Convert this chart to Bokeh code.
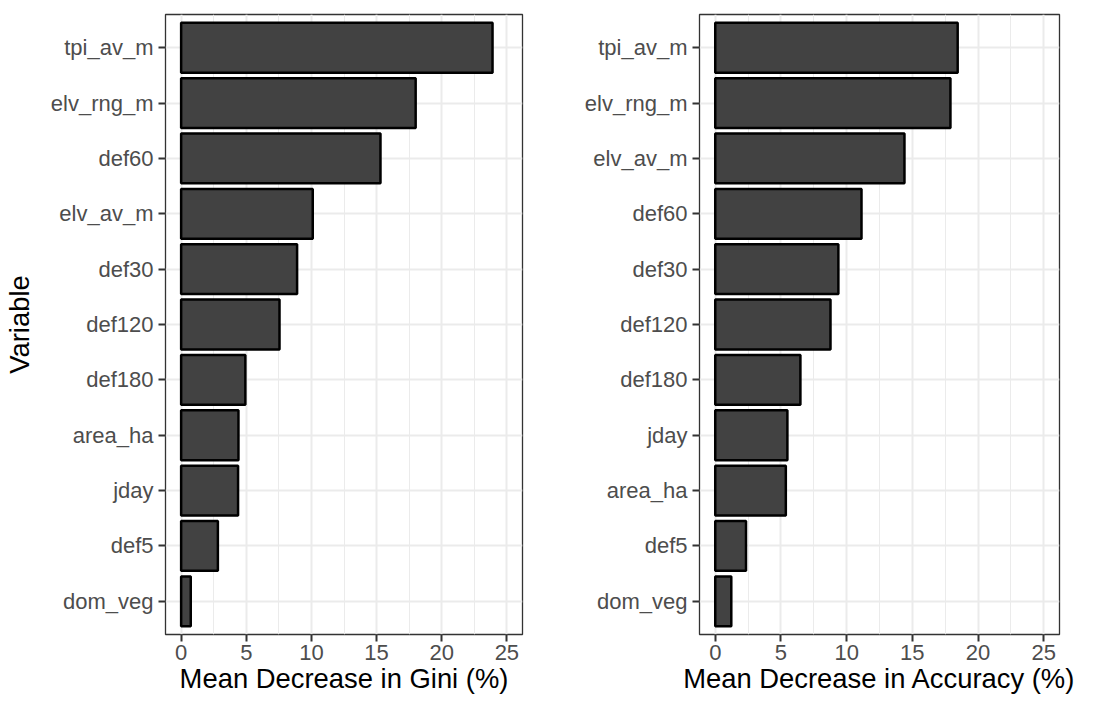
from bokeh.plotting import figure
from bokeh.layouts import row
from bokeh.models import FactorRange, Range1d, FixedTicker, ColumnDataSource
from bokeh.embed import file_html
from bokeh.resources import INLINE

gini_vars = ["tpi_av_m", "elv_rng_m", "def60", "elv_av_m", "def30", "def120",
             "def180", "area_ha", "jday", "def5", "dom_veg"]
gini_vals = [23.9, 18.0, 15.3, 10.1, 8.9, 7.55, 4.93, 4.4, 4.37, 2.82, 0.74]

acc_vars = ["tpi_av_m", "elv_rng_m", "elv_av_m", "def60", "def30", "def120",
            "def180", "jday", "area_ha", "def5", "dom_veg"]
acc_vals = [18.45, 17.9, 14.4, 11.13, 9.37, 8.77, 6.48, 5.49, 5.37, 2.34, 1.22]

x_ticks = [0, 5, 10, 15, 20, 25]
x_minor = [2.5, 7.5, 12.5, 17.5, 22.5]

FONT = "Liberation Sans"


def make_panel(vars_, vals, xlabel, ylabel, width, bl, br):
    factors = list(reversed(vars_))
    p = figure(width=width, height=701, output_backend="svg", toolbar_location=None,
               y_range=FactorRange(factors=factors, range_padding=0.2 / len(factors)),
               x_range=Range1d(-1.2, 26.2),
               min_border_left=bl, min_border_right=br, min_border_top=14, min_border_bottom=67)
    src = ColumnDataSource(dict(y=vars_, v=vals))
    p.hbar(y="y", right="v", left=0, height=0.9, source=src,
           fill_color="#424242", line_color="black", line_width=2.5)
    p.xaxis.ticker = FixedTicker(ticks=x_ticks, minor_ticks=x_minor)
    p.outline_line_color = "#333333"
    p.outline_line_width = 1.3
    p.background_fill_color = "white"
    p.border_fill_color = "white"
    for ax in (p.xaxis, p.yaxis):
        ax.axis_line_color = None
        ax.major_tick_line_color = "#333333"
        ax.major_tick_line_width = 2
        ax.major_tick_out = 7
        ax.major_tick_in = 0
        ax.minor_tick_line_color = None
        ax.major_label_text_font = FONT
        ax.major_label_text_font_size = "22px"
        ax.major_label_text_color = "#4d4d4d"
        ax.axis_label_text_font = FONT
        ax.axis_label_text_font_size = "27.4px"
        ax.axis_label_text_font_style = "normal"
        ax.axis_label_text_color = "black"
    p.yaxis.major_label_standoff = 5
    p.xaxis.major_label_standoff = 3
    p.xaxis.axis_label = xlabel
    p.xaxis.axis_label_standoff = 0
    if ylabel:
        p.yaxis.axis_label = ylabel
        p.yaxis.axis_label_standoff = 13
    p.xgrid.grid_line_color = "#ebebeb"
    p.xgrid.grid_line_width = 2
    p.xgrid.minor_grid_line_color = "#ebebeb"
    p.xgrid.minor_grid_line_width = 1
    p.ygrid.grid_line_color = "#ebebeb"
    p.ygrid.grid_line_width = 2
    p.xgrid.level = "underlay"
    p.ygrid.level = "underlay"
    return p


p1 = make_panel(gini_vars, gini_vals, "Mean Decrease in Gini (%)", "Variable", 560, 163, 38)
p2 = make_panel(acc_vars, acc_vals, "Mean Decrease in Accuracy (%)", None, 555, 139, 56)

layout = row(p1, p2)
open("out.html", "w").write(file_html(layout, INLINE))
